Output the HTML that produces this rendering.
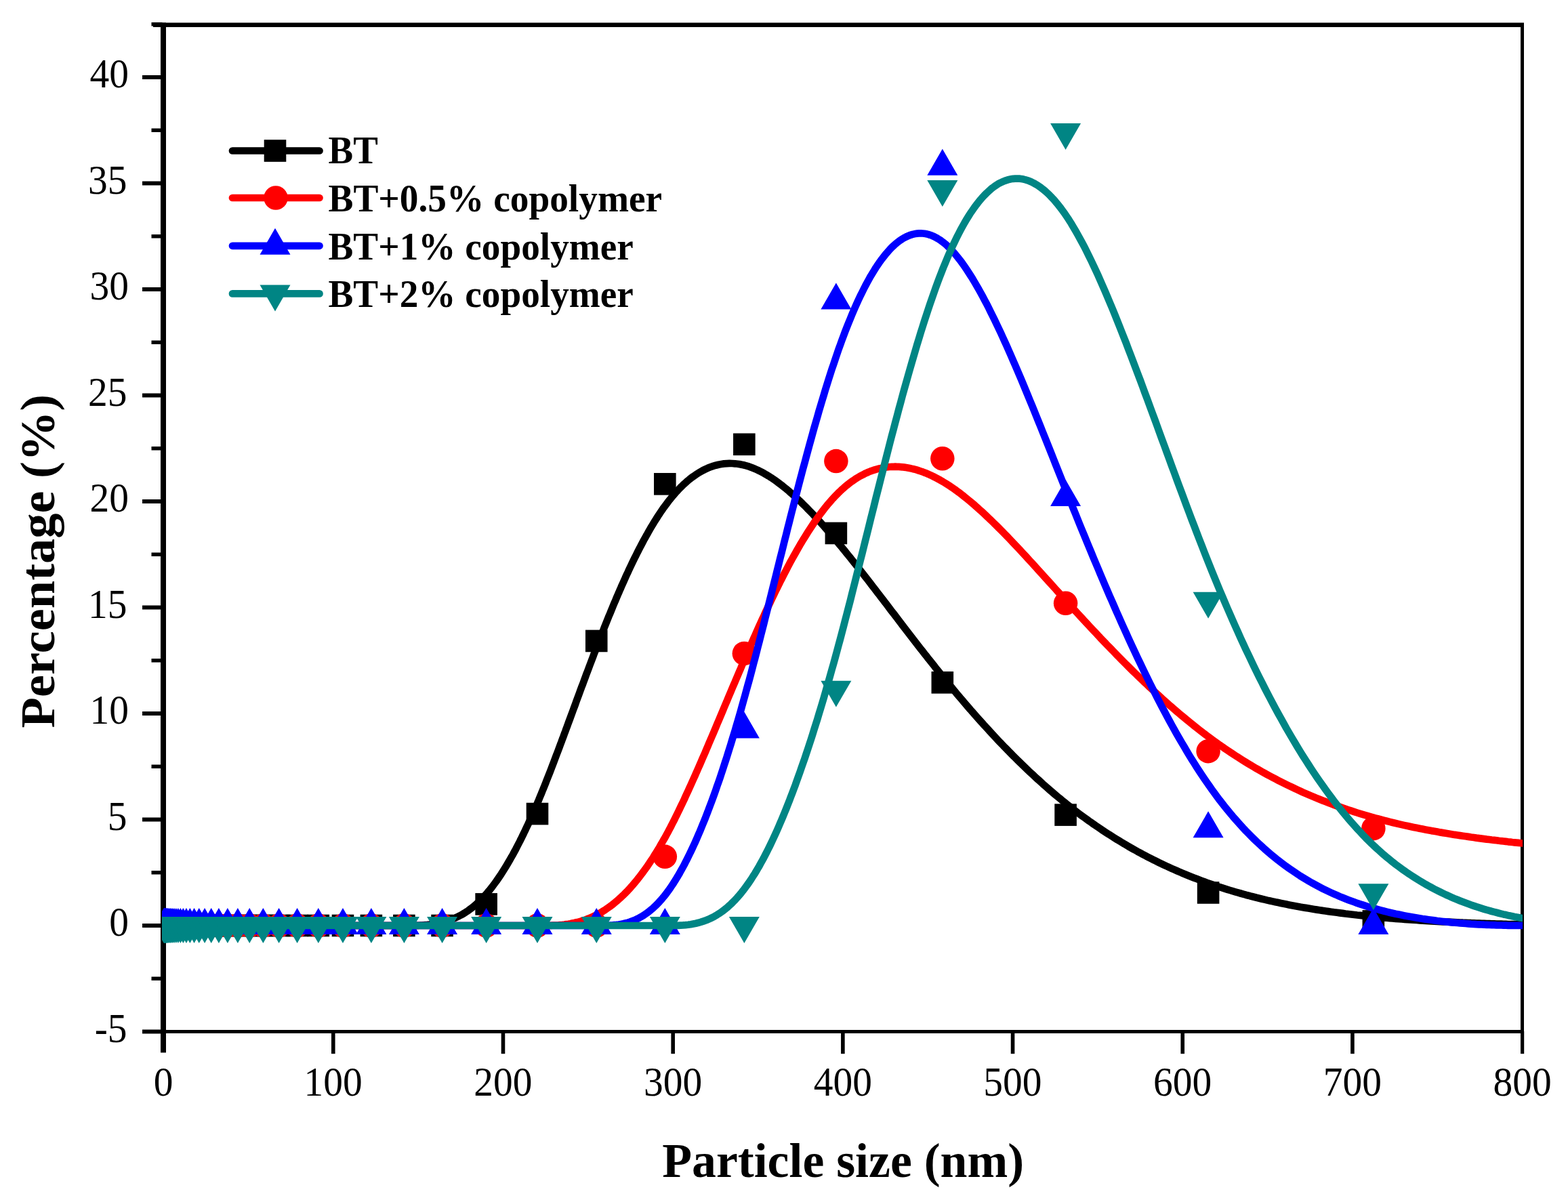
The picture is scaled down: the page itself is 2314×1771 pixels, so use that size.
<!DOCTYPE html>
<html><head><meta charset="utf-8"><title>Particle size distribution</title>
<style>
html,body{margin:0;padding:0;background:#fff;overflow:hidden;}
svg{display:block;}
text{font-family:"Liberation Serif","Times New Roman",serif;fill:#000;}
.tl{font-size:57.5px;}
.ti{font-size:72px;font-weight:bold;}
.lg{font-size:56px;font-weight:bold;}
</style></head><body>
<svg width="2314" height="1771" viewBox="0 0 2314 1771">
<rect width="2314" height="1771" fill="#fff"/>
<defs><clipPath id="pa"><rect x="239" y="36" width="2008" height="1487"/></clipPath></defs>

<g fill="#000">
<rect x="237" y="33.5" width="8" height="1491.5"/>
<rect x="2244" y="35" width="5" height="1490"/>
<rect x="226" y="33.5" width="2023" height="6.5"/>
<rect x="210" y="1520" width="2039" height="5"/>
<rect x="237" y="1522" width="8" height="31.5"/>
<rect x="488.99" y="1522" width="5.6" height="33.2"/>
<rect x="739.68" y="1522" width="5.6" height="33.2"/>
<rect x="990.37" y="1522" width="5.6" height="33.2"/>
<rect x="1241.06" y="1522" width="5.6" height="33.2"/>
<rect x="1491.75" y="1522" width="5.6" height="33.2"/>
<rect x="1742.44" y="1522" width="5.6" height="33.2"/>
<rect x="1993.13" y="1522" width="5.6" height="33.2"/>
<rect x="2244" y="1522" width="5.2" height="33.2"/>
<rect x="210" y="1519.50" width="30" height="6"/>
<rect x="210" y="1363.00" width="30" height="6"/>
<rect x="210" y="1206.50" width="30" height="6"/>
<rect x="210" y="1050.00" width="30" height="6"/>
<rect x="210" y="893.50" width="30" height="6"/>
<rect x="210" y="737.00" width="30" height="6"/>
<rect x="210" y="580.50" width="30" height="6"/>
<rect x="210" y="424.00" width="30" height="6"/>
<rect x="210" y="267.50" width="30" height="6"/>
<rect x="210" y="111.00" width="30" height="6"/>
<rect x="223.5" y="1441.50" width="16" height="5.5"/>
<rect x="223.5" y="1285.00" width="16" height="5.5"/>
<rect x="223.5" y="1128.50" width="16" height="5.5"/>
<rect x="223.5" y="972.00" width="16" height="5.5"/>
<rect x="223.5" y="815.50" width="16" height="5.5"/>
<rect x="223.5" y="659.00" width="16" height="5.5"/>
<rect x="223.5" y="502.50" width="16" height="5.5"/>
<rect x="223.5" y="346.00" width="16" height="5.5"/>
<rect x="223.5" y="189.50" width="16" height="5.5"/>
<rect x="223.5" y="33.00" width="16" height="5.5"/>
</g>
<g clip-path="url(#pa)">
<path d="M242.0,1366.0 L244.5,1366.0 L247.0,1366.0 L249.5,1366.0 L252.1,1366.0 L254.6,1366.0 L257.1,1366.0 L259.6,1366.0 L262.2,1366.0 L264.7,1366.0 L267.2,1366.0 L269.8,1366.0 L272.4,1366.0 L274.9,1366.0 L277.5,1366.0 L280.1,1366.0 L282.6,1366.0 L285.2,1366.0 L287.7,1366.0 L290.3,1366.0 L292.9,1366.0 L295.5,1366.0 L298.1,1366.0 L300.7,1366.0 L303.2,1366.0 L305.8,1366.0 L308.4,1366.0 L311.0,1366.0 L313.6,1366.0 L316.1,1366.0 L318.7,1366.0 L321.2,1366.0 L323.8,1366.0 L326.5,1366.0 L329.0,1366.0 L331.7,1366.0 L334.4,1366.0 L336.9,1366.0 L339.5,1366.0 L342.2,1366.0 L344.7,1366.0 L347.3,1366.0 L349.9,1366.0 L352.6,1366.0 L355.4,1366.0 L357.9,1366.0 L360.5,1366.0 L363.2,1366.0 L365.9,1366.0 L368.7,1366.0 L371.2,1366.0 L373.8,1366.0 L376.4,1366.0 L379.1,1366.0 L381.8,1366.0 L384.6,1366.0 L387.4,1366.0 L390.0,1366.0 L392.5,1366.0 L395.1,1366.0 L397.8,1366.0 L400.5,1366.0 L403.3,1366.0 L406.1,1366.0 L408.9,1366.0 L411.8,1366.0 L414.3,1366.0 L416.9,1366.0 L419.5,1366.0 L422.1,1366.0 L424.8,1366.0 L427.5,1366.0 L430.3,1366.0 L433.1,1366.0 L435.9,1366.0 L438.8,1366.0 L441.7,1366.0 L444.7,1366.0 L447.2,1366.0 L449.8,1366.0 L452.3,1366.0 L454.9,1366.0 L457.6,1366.0 L460.2,1366.0 L462.9,1366.0 L465.7,1366.0 L468.4,1366.0 L471.2,1366.0 L474.0,1366.0 L476.9,1366.0 L479.8,1366.0 L482.8,1366.0 L485.7,1366.0 L488.7,1366.0 L491.8,1366.0 L494.9,1366.0 L498.0,1366.0 L500.5,1366.0 L503.1,1366.0 L505.7,1366.0 L508.3,1366.0 L510.9,1366.0 L513.5,1366.0 L516.2,1366.0 L518.9,1366.0 L521.7,1366.0 L524.4,1366.0 L527.2,1366.0 L530.0,1366.0 L532.9,1366.0 L535.7,1366.0 L538.6,1366.0 L541.6,1366.0 L544.5,1366.0 L547.5,1366.0 L550.5,1366.0 L553.6,1366.0 L556.6,1366.0 L559.7,1366.0 L562.9,1366.0 L566.0,1366.0 L569.2,1366.0 L572.4,1366.0 L575.7,1366.0 L579.0,1366.0 L582.3,1366.0 L584.8,1366.0 L587.4,1366.0 L589.9,1366.0 L592.5,1366.0 L595.1,1366.0 L597.7,1366.0 L600.3,1366.0 L603.0,1366.0 L605.6,1366.0 L608.3,1366.0 L611.0,1365.9 L613.7,1365.9 L616.5,1365.8 L619.3,1365.7 L622.0,1365.5 L624.8,1365.3 L627.7,1365.1 L630.5,1364.9 L633.4,1364.6 L636.3,1364.2 L639.2,1363.8 L642.1,1363.3 L645.1,1362.8 L648.1,1362.2 L651.1,1361.5 L654.1,1360.7 L657.1,1359.9 L660.2,1359.0 L663.3,1358.0 L666.4,1356.8 L669.5,1355.6 L672.7,1354.3 L675.8,1352.8 L679.0,1351.1 L682.3,1349.4 L684.4,1348.1 L686.6,1346.7 L688.8,1345.3 L691.0,1343.8 L693.2,1342.2 L695.4,1340.6 L697.6,1338.8 L699.9,1337.0 L702.1,1335.1 L704.4,1333.0 L706.7,1330.9 L709.0,1328.7 L711.2,1326.4 L713.6,1324.0 L715.9,1321.4 L718.2,1318.8 L720.5,1316.0 L722.9,1313.2 L725.3,1310.2 L727.6,1307.1 L730.0,1303.9 L732.4,1300.6 L734.8,1297.1 L737.2,1293.6 L739.7,1289.9 L742.1,1286.1 L744.6,1282.2 L747.1,1278.2 L749.5,1274.0 L752.0,1269.7 L753.3,1267.5 L754.5,1265.3 L755.8,1263.1 L757.1,1260.8 L758.3,1258.5 L759.6,1256.1 L760.9,1253.8 L762.1,1251.4 L763.4,1248.9 L764.7,1246.4 L766.0,1243.9 L767.3,1241.4 L768.5,1238.9 L769.8,1236.3 L771.1,1233.6 L772.4,1231.0 L773.7,1228.3 L775.0,1225.6 L776.3,1222.8 L777.6,1220.0 L779.0,1217.2 L780.3,1214.3 L781.6,1211.4 L782.9,1208.5 L784.3,1205.6 L785.6,1202.6 L786.9,1199.6 L788.3,1196.5 L789.6,1193.4 L790.9,1190.3 L792.3,1187.2 L793.6,1184.0 L795.0,1180.8 L796.3,1177.5 L797.7,1174.2 L799.1,1170.9 L800.4,1167.5 L801.8,1164.2 L803.2,1160.7 L804.6,1157.3 L805.9,1153.8 L807.3,1150.3 L808.7,1146.8 L810.1,1143.3 L811.5,1139.7 L812.9,1136.1 L814.3,1132.4 L815.7,1128.8 L817.1,1125.1 L818.5,1121.4 L819.9,1117.7 L821.3,1113.9 L822.8,1110.1 L824.2,1106.4 L825.6,1102.6 L827.0,1098.7 L828.5,1094.9 L829.9,1091.0 L831.4,1087.1 L832.8,1083.2 L834.3,1079.3 L835.7,1075.4 L837.2,1071.5 L838.6,1067.5 L840.1,1063.5 L841.6,1059.5 L843.0,1055.6 L844.5,1051.6 L846.0,1047.5 L847.5,1043.5 L849.0,1039.5 L850.4,1035.4 L851.9,1031.4 L853.4,1027.3 L854.9,1023.3 L856.4,1019.2 L857.9,1015.1 L859.5,1011.1 L861.0,1007.0 L862.5,1002.9 L864.0,998.8 L865.5,994.7 L867.1,990.6 L868.6,986.6 L870.1,982.5 L871.7,978.4 L873.2,974.3 L874.8,970.2 L876.3,966.1 L877.9,962.1 L879.4,958.0 L881.0,953.9 L882.6,949.9 L884.1,945.8 L885.7,941.8 L887.3,937.7 L888.9,933.7 L890.5,929.7 L892.0,925.7 L893.6,921.7 L895.2,917.7 L896.8,913.7 L898.4,909.7 L900.1,905.8 L901.7,901.9 L903.3,897.9 L904.9,894.0 L906.5,890.2 L908.2,886.3 L909.8,882.4 L911.4,878.6 L913.1,874.8 L914.7,871.0 L916.4,867.2 L918.0,863.4 L919.7,859.7 L921.4,856.0 L923.0,852.3 L924.7,848.6 L926.4,845.0 L928.0,841.4 L929.7,837.8 L931.4,834.2 L933.1,830.7 L934.8,827.2 L936.5,823.7 L938.2,820.3 L939.9,816.9 L941.6,813.5 L943.3,810.1 L945.1,806.8 L946.8,803.5 L948.5,800.2 L950.2,797.0 L952.0,793.8 L953.7,790.7 L955.5,787.6 L957.2,784.5 L959.0,781.4 L960.7,778.4 L962.5,775.5 L964.3,772.5 L966.0,769.6 L967.8,766.8 L969.6,764.0 L971.4,761.2 L973.2,758.5 L974.9,755.9 L976.7,753.2 L978.5,750.6 L980.4,748.1 L982.2,745.6 L984.0,743.2 L985.8,740.8 L987.6,738.4 L989.5,736.1 L991.3,733.9 L993.1,731.7 L995.0,729.5 L996.8,727.4 L998.7,725.4 L1000.5,723.4 L1002.4,721.4 L1004.2,719.5 L1006.1,717.7 L1008.0,715.8 L1009.9,714.1 L1011.7,712.4 L1013.6,710.7 L1017.4,707.5 L1021.2,704.5 L1025.1,701.8 L1028.9,699.2 L1032.8,696.8 L1036.6,694.6 L1040.6,692.6 L1044.5,690.8 L1048.4,689.3 L1052.4,687.9 L1056.4,686.7 L1060.4,685.7 L1064.4,685.0 L1068.4,684.4 L1072.5,684.1 L1076.5,683.9 L1080.6,684.0 L1084.8,684.3 L1088.9,684.7 L1093.1,685.4 L1097.2,686.3 L1101.4,687.4 L1105.7,688.7 L1109.9,690.3 L1114.2,692.0 L1118.4,693.9 L1122.7,696.0 L1127.1,698.3 L1131.4,700.8 L1133.6,702.2 L1135.8,703.5 L1138.0,704.9 L1140.2,706.4 L1142.4,707.9 L1144.6,709.4 L1146.8,711.0 L1149.0,712.7 L1151.2,714.3 L1153.5,716.0 L1155.7,717.8 L1157.9,719.6 L1160.2,721.4 L1162.4,723.3 L1164.7,725.2 L1166.9,727.2 L1169.2,729.2 L1171.5,731.2 L1173.8,733.3 L1176.0,735.4 L1178.3,737.5 L1180.6,739.7 L1182.9,741.9 L1185.2,744.2 L1187.6,746.5 L1189.9,748.8 L1192.2,751.2 L1194.5,753.6 L1196.9,756.0 L1199.2,758.4 L1201.5,760.9 L1203.9,763.5 L1206.3,766.0 L1208.6,768.6 L1211.0,771.2 L1213.4,773.8 L1215.8,776.5 L1218.1,779.2 L1220.5,781.9 L1222.9,784.7 L1225.3,787.5 L1227.7,790.3 L1230.2,793.1 L1232.6,796.0 L1235.0,798.9 L1237.4,801.8 L1239.9,804.8 L1242.3,807.7 L1244.8,810.7 L1247.2,813.7 L1249.7,816.8 L1252.2,819.8 L1254.7,822.9 L1257.1,826.0 L1259.6,829.1 L1262.1,832.3 L1264.6,835.4 L1267.1,838.6 L1269.6,841.8 L1272.2,845.0 L1274.7,848.2 L1277.2,851.5 L1279.8,854.8 L1282.3,858.0 L1284.8,861.3 L1287.4,864.7 L1290.0,868.0 L1292.5,871.3 L1295.1,874.7 L1297.7,878.0 L1300.3,881.4 L1302.9,884.8 L1305.5,888.2 L1308.1,891.6 L1310.7,895.0 L1313.3,898.5 L1315.9,901.9 L1318.6,905.3 L1321.2,908.8 L1323.9,912.3 L1326.5,915.7 L1329.2,919.2 L1331.8,922.7 L1334.5,926.2 L1337.2,929.7 L1339.9,933.2 L1342.6,936.7 L1345.3,940.2 L1348.0,943.7 L1350.7,947.2 L1353.4,950.7 L1356.1,954.2 L1358.8,957.7 L1361.6,961.2 L1364.3,964.7 L1367.1,968.2 L1369.8,971.7 L1372.6,975.2 L1375.4,978.7 L1378.2,982.2 L1380.9,985.7 L1383.7,989.2 L1386.5,992.7 L1389.3,996.2 L1392.1,999.7 L1395.0,1003.1 L1397.8,1006.6 L1400.6,1010.0 L1403.5,1013.5 L1406.3,1016.9 L1409.2,1020.4 L1412.0,1023.8 L1414.9,1027.2 L1417.8,1030.6 L1420.7,1034.0 L1423.5,1037.4 L1426.4,1040.8 L1429.3,1044.1 L1432.2,1047.5 L1435.2,1050.8 L1438.1,1054.2 L1441.0,1057.5 L1444.0,1060.8 L1446.9,1064.1 L1449.9,1067.4 L1452.8,1070.7 L1455.8,1073.9 L1458.8,1077.2 L1461.7,1080.4 L1464.7,1083.7 L1467.7,1086.9 L1470.7,1090.1 L1473.7,1093.3 L1476.8,1096.5 L1479.8,1099.6 L1482.8,1102.8 L1485.9,1105.9 L1488.9,1109.0 L1492.0,1112.1 L1495.0,1115.2 L1498.1,1118.3 L1501.2,1121.3 L1504.3,1124.4 L1507.4,1127.4 L1510.5,1130.4 L1513.6,1133.4 L1516.7,1136.4 L1519.8,1139.3 L1523.0,1142.2 L1526.1,1145.2 L1529.2,1148.1 L1532.4,1150.9 L1535.6,1153.8 L1538.7,1156.7 L1541.9,1159.5 L1545.1,1162.3 L1548.3,1165.1 L1551.5,1167.8 L1554.7,1170.6 L1557.9,1173.3 L1561.1,1176.0 L1564.4,1178.7 L1567.6,1181.4 L1570.9,1184.0 L1574.1,1186.6 L1577.4,1189.2 L1580.7,1191.8 L1583.9,1194.3 L1587.2,1196.9 L1590.5,1199.4 L1593.8,1201.9 L1597.1,1204.3 L1600.5,1206.8 L1603.8,1209.2 L1607.1,1211.6 L1610.5,1213.9 L1613.8,1216.3 L1617.2,1218.6 L1620.6,1220.9 L1623.9,1223.2 L1627.3,1225.5 L1630.7,1227.7 L1634.1,1229.9 L1637.5,1232.1 L1641.0,1234.3 L1644.4,1236.5 L1647.8,1238.6 L1651.3,1240.7 L1654.7,1242.8 L1658.2,1244.9 L1661.7,1246.9 L1665.1,1249.0 L1668.6,1251.0 L1672.1,1253.0 L1675.6,1254.9 L1679.1,1256.9 L1682.7,1258.8 L1686.2,1260.7 L1689.7,1262.5 L1693.3,1264.4 L1696.8,1266.2 L1700.4,1268.1 L1704.0,1269.8 L1707.6,1271.6 L1711.1,1273.4 L1714.7,1275.1 L1718.4,1276.8 L1722.0,1278.5 L1725.6,1280.2 L1729.2,1281.8 L1732.9,1283.4 L1736.5,1285.0 L1740.2,1286.6 L1743.9,1288.2 L1747.6,1289.7 L1751.2,1291.2 L1754.9,1292.7 L1758.6,1294.2 L1762.4,1295.7 L1766.1,1297.1 L1769.8,1298.5 L1773.6,1299.9 L1777.3,1301.3 L1781.1,1302.7 L1784.9,1304.0 L1788.6,1305.3 L1792.4,1306.6 L1796.2,1307.9 L1800.0,1309.2 L1803.9,1310.4 L1807.7,1311.6 L1811.5,1312.8 L1815.4,1314.0 L1819.2,1315.2 L1823.1,1316.3 L1827.0,1317.4 L1830.8,1318.5 L1834.7,1319.6 L1838.6,1320.7 L1842.6,1321.7 L1846.5,1322.8 L1850.4,1323.8 L1854.3,1324.8 L1858.3,1325.7 L1862.3,1326.7 L1866.2,1327.6 L1870.2,1328.6 L1874.2,1329.5 L1878.2,1330.4 L1882.2,1331.3 L1886.2,1332.1 L1890.3,1333.0 L1894.3,1333.8 L1898.3,1334.6 L1902.4,1335.4 L1906.5,1336.2 L1910.6,1337.0 L1914.6,1337.7 L1918.7,1338.5 L1922.8,1339.2 L1927.0,1339.9 L1931.1,1340.6 L1935.2,1341.3 L1939.4,1342.0 L1943.5,1342.6 L1947.7,1343.2 L1951.9,1343.9 L1956.1,1344.5 L1960.3,1345.1 L1964.5,1345.7 L1968.7,1346.3 L1972.9,1346.8 L1977.2,1347.4 L1981.4,1347.9 L1985.7,1348.5 L1990.0,1349.0 L1994.3,1349.5 L1998.6,1350.0 L2002.9,1350.5 L2007.2,1350.9 L2011.5,1351.4 L2015.8,1351.8 L2020.2,1352.3 L2024.5,1352.7 L2028.9,1353.1 L2033.3,1353.5 L2037.7,1353.9 L2042.1,1354.3 L2046.5,1354.7 L2050.9,1355.1 L2055.3,1355.4 L2059.7,1355.8 L2064.2,1356.1 L2068.6,1356.5 L2073.0,1356.8 L2077.4,1357.1 L2081.8,1357.4 L2086.2,1357.7 L2090.6,1358.0 L2095.0,1358.3 L2099.4,1358.6 L2103.8,1358.8 L2108.1,1359.1 L2112.5,1359.3 L2116.8,1359.6 L2121.1,1359.8 L2125.4,1360.1 L2129.7,1360.3 L2133.9,1360.5 L2138.2,1360.7 L2142.4,1360.9 L2146.5,1361.1 L2150.7,1361.3 L2154.8,1361.5 L2158.9,1361.7 L2162.9,1361.8 L2167.0,1362.0 L2170.9,1362.2 L2174.9,1362.3 L2178.8,1362.5 L2182.7,1362.6 L2186.5,1362.8 L2190.3,1362.9 L2194.0,1363.0 L2197.7,1363.1 L2201.4,1363.3 L2205.0,1363.4 L2208.5,1363.5 L2212.0,1363.6 L2215.5,1363.7 L2218.8,1363.8 L2222.2,1363.9 L2225.5,1364.0 L2228.7,1364.1 L2231.8,1364.2 L2234.9,1364.2 L2238.0,1364.3 L2240.9,1364.4 L2243.8,1364.5 L2246.6,1364.5 L2249.4,1364.6 L2252.1,1364.7 L2254.7,1364.7 L2257.3,1364.8 L2262.1,1364.9 L2266.7,1365.0 L2270.9,1365.1 L2274.9,1365.2 L2278.5,1365.3 L2281.9,1365.4 L2285.1,1365.4 L2288.0,1365.5 L2290.6,1365.6 L2294.2,1365.7 L2297.2,1365.7 L2299.8,1365.8 L2299.8,1365.8" fill="none" stroke="#000000" stroke-width="10.7" stroke-linejoin="round"/>
<g fill="#000000">
<rect x="225.70" y="1349.70" width="32.6" height="32.6"/>
<rect x="225.86" y="1349.70" width="32.6" height="32.6"/>
<rect x="226.04" y="1349.70" width="32.6" height="32.6"/>
<rect x="226.26" y="1349.70" width="32.6" height="32.6"/>
<rect x="226.50" y="1349.70" width="32.6" height="32.6"/>
<rect x="226.79" y="1349.70" width="32.6" height="32.6"/>
<rect x="227.12" y="1349.70" width="32.6" height="32.6"/>
<rect x="227.50" y="1349.70" width="32.6" height="32.6"/>
<rect x="227.94" y="1349.70" width="32.6" height="32.6"/>
<rect x="228.46" y="1349.70" width="32.6" height="32.6"/>
<rect x="229.05" y="1349.70" width="32.6" height="32.6"/>
<rect x="229.74" y="1349.70" width="32.6" height="32.6"/>
<rect x="230.54" y="1349.70" width="32.6" height="32.6"/>
<rect x="231.46" y="1349.70" width="32.6" height="32.6"/>
<rect x="232.53" y="1349.70" width="32.6" height="32.6"/>
<rect x="233.76" y="1349.70" width="32.6" height="32.6"/>
<rect x="235.20" y="1349.70" width="32.6" height="32.6"/>
<rect x="236.85" y="1349.70" width="32.6" height="32.6"/>
<rect x="238.78" y="1349.70" width="32.6" height="32.6"/>
<rect x="241.00" y="1349.70" width="32.6" height="32.6"/>
<rect x="243.58" y="1349.70" width="32.6" height="32.6"/>
<rect x="246.56" y="1349.70" width="32.6" height="32.6"/>
<rect x="250.02" y="1349.70" width="32.6" height="32.6"/>
<rect x="254.02" y="1349.70" width="32.6" height="32.6"/>
<rect x="258.66" y="1349.70" width="32.6" height="32.6"/>
<rect x="264.02" y="1349.70" width="32.6" height="32.6"/>
<rect x="270.24" y="1349.70" width="32.6" height="32.6"/>
<rect x="277.44" y="1349.70" width="32.6" height="32.6"/>
<rect x="285.78" y="1349.70" width="32.6" height="32.6"/>
<rect x="295.43" y="1349.70" width="32.6" height="32.6"/>
<rect x="306.61" y="1349.70" width="32.6" height="32.6"/>
<rect x="319.56" y="1349.70" width="32.6" height="32.6"/>
<rect x="334.56" y="1349.70" width="32.6" height="32.6"/>
<rect x="351.92" y="1349.70" width="32.6" height="32.6"/>
<rect x="372.03" y="1349.70" width="32.6" height="32.6"/>
<rect x="395.32" y="1349.70" width="32.6" height="32.6"/>
<rect x="422.29" y="1349.70" width="32.6" height="32.6"/>
<rect x="453.53" y="1349.70" width="32.6" height="32.6"/>
<rect x="489.70" y="1349.70" width="32.6" height="32.6"/>
<rect x="531.59" y="1349.70" width="32.6" height="32.6"/>
<rect x="580.11" y="1349.70" width="32.6" height="32.6"/>
<rect x="636.29" y="1349.70" width="32.6" height="32.6"/>
<rect x="701.35" y="1318.09" width="32.6" height="32.6"/>
<rect x="776.70" y="1184.75" width="32.6" height="32.6"/>
<rect x="863.96" y="929.65" width="32.6" height="32.6"/>
<rect x="965.02" y="698.03" width="32.6" height="32.6"/>
<rect x="1082.05" y="639.50" width="32.6" height="32.6"/>
<rect x="1217.58" y="770.65" width="32.6" height="32.6"/>
<rect x="1374.53" y="991.00" width="32.6" height="32.6"/>
<rect x="1556.29" y="1186.31" width="32.6" height="32.6"/>
<rect x="1766.79" y="1301.18" width="32.6" height="32.6"/>
<rect x="2010.56" y="1343.13" width="32.6" height="32.6"/>
</g>
<path d="M242.0,1366.0 L244.5,1366.0 L247.0,1366.0 L249.5,1366.0 L252.1,1366.0 L254.6,1366.0 L257.1,1366.0 L259.6,1366.0 L262.2,1366.0 L264.7,1366.0 L267.2,1366.0 L269.8,1366.0 L272.4,1366.0 L274.9,1366.0 L277.5,1366.0 L280.1,1366.0 L282.6,1366.0 L285.2,1366.0 L287.7,1366.0 L290.3,1366.0 L292.9,1366.0 L295.5,1366.0 L298.1,1366.0 L300.7,1366.0 L303.2,1366.0 L305.8,1366.0 L308.4,1366.0 L311.0,1366.0 L313.6,1366.0 L316.1,1366.0 L318.7,1366.0 L321.2,1366.0 L323.8,1366.0 L326.5,1366.0 L329.0,1366.0 L331.7,1366.0 L334.4,1366.0 L336.9,1366.0 L339.5,1366.0 L342.2,1366.0 L344.7,1366.0 L347.3,1366.0 L349.9,1366.0 L352.6,1366.0 L355.4,1366.0 L357.9,1366.0 L360.5,1366.0 L363.2,1366.0 L365.9,1366.0 L368.7,1366.0 L371.2,1366.0 L373.8,1366.0 L376.4,1366.0 L379.1,1366.0 L381.8,1366.0 L384.6,1366.0 L387.4,1366.0 L390.0,1366.0 L392.5,1366.0 L395.1,1366.0 L397.8,1366.0 L400.5,1366.0 L403.3,1366.0 L406.1,1366.0 L408.9,1366.0 L411.8,1366.0 L414.3,1366.0 L416.9,1366.0 L419.5,1366.0 L422.1,1366.0 L424.8,1366.0 L427.5,1366.0 L430.3,1366.0 L433.1,1366.0 L435.9,1366.0 L438.8,1366.0 L441.7,1366.0 L444.7,1366.0 L447.2,1366.0 L449.8,1366.0 L452.3,1366.0 L454.9,1366.0 L457.6,1366.0 L460.2,1366.0 L462.9,1366.0 L465.7,1366.0 L468.4,1366.0 L471.2,1366.0 L474.0,1366.0 L476.9,1366.0 L479.8,1366.0 L482.8,1366.0 L485.7,1366.0 L488.7,1366.0 L491.8,1366.0 L494.9,1366.0 L498.0,1366.0 L500.5,1366.0 L503.1,1366.0 L505.7,1366.0 L508.3,1366.0 L510.9,1366.0 L513.5,1366.0 L516.2,1366.0 L518.9,1366.0 L521.7,1366.0 L524.4,1366.0 L527.2,1366.0 L530.0,1366.0 L532.9,1366.0 L535.7,1366.0 L538.6,1366.0 L541.6,1366.0 L544.5,1366.0 L547.5,1366.0 L550.5,1366.0 L553.6,1366.0 L556.6,1366.0 L559.7,1366.0 L562.9,1366.0 L566.0,1366.0 L569.2,1366.0 L572.4,1366.0 L575.7,1366.0 L579.0,1366.0 L582.3,1366.0 L584.8,1366.0 L587.4,1366.0 L589.9,1366.0 L592.5,1366.0 L595.1,1366.0 L597.7,1366.0 L600.3,1366.0 L603.0,1366.0 L605.6,1366.0 L608.3,1366.0 L611.0,1366.0 L613.7,1366.0 L616.5,1366.0 L619.3,1366.0 L622.0,1366.0 L624.8,1366.0 L627.7,1366.0 L630.5,1366.0 L633.4,1366.0 L636.3,1366.0 L639.2,1366.0 L642.1,1366.0 L645.1,1366.0 L648.1,1366.0 L651.1,1366.0 L654.1,1366.0 L657.1,1366.0 L660.2,1366.0 L663.3,1366.0 L666.4,1366.0 L669.5,1366.0 L672.7,1366.0 L675.8,1366.0 L679.0,1366.0 L682.3,1366.0 L685.5,1366.0 L688.8,1366.0 L692.1,1366.0 L695.4,1366.0 L698.8,1366.0 L702.1,1366.0 L705.5,1366.0 L709.0,1366.0 L712.4,1366.0 L715.9,1366.0 L719.4,1366.0 L722.9,1366.0 L726.4,1366.0 L730.0,1366.0 L733.6,1366.0 L737.2,1366.0 L740.9,1366.0 L744.6,1366.0 L748.3,1366.0 L752.0,1366.0 L754.5,1366.0 L757.1,1366.0 L759.6,1366.0 L762.1,1366.0 L764.7,1366.0 L767.3,1366.0 L769.8,1366.0 L772.4,1366.0 L775.0,1366.0 L777.6,1366.0 L780.3,1366.0 L782.9,1366.0 L785.6,1366.0 L788.3,1366.0 L790.9,1366.0 L793.6,1366.0 L796.3,1366.0 L799.1,1366.0 L801.8,1366.0 L804.6,1366.0 L807.3,1365.9 L810.1,1365.9 L812.9,1365.8 L815.7,1365.7 L818.5,1365.6 L821.3,1365.5 L824.2,1365.3 L827.0,1365.0 L829.9,1364.8 L832.8,1364.5 L835.7,1364.1 L838.6,1363.7 L841.6,1363.2 L844.5,1362.6 L847.5,1362.0 L850.4,1361.3 L853.4,1360.6 L856.4,1359.8 L859.5,1358.8 L862.5,1357.9 L865.5,1356.8 L868.6,1355.6 L871.7,1354.3 L874.8,1352.9 L877.9,1351.5 L881.0,1349.9 L884.1,1348.2 L887.3,1346.4 L890.5,1344.4 L893.6,1342.4 L896.8,1340.2 L900.1,1337.9 L903.3,1335.5 L906.5,1332.9 L909.8,1330.2 L913.1,1327.3 L916.4,1324.3 L919.7,1321.2 L923.0,1317.9 L926.4,1314.4 L929.7,1310.8 L931.4,1308.9 L933.1,1307.0 L934.8,1305.0 L936.5,1303.0 L938.2,1301.0 L939.9,1298.9 L941.6,1296.7 L943.3,1294.6 L945.1,1292.3 L946.8,1290.1 L948.5,1287.8 L950.2,1285.4 L952.0,1283.0 L953.7,1280.6 L955.5,1278.1 L957.2,1275.5 L959.0,1272.9 L960.7,1270.3 L962.5,1267.6 L964.3,1264.8 L966.0,1262.0 L967.8,1259.2 L969.6,1256.3 L971.4,1253.4 L973.2,1250.4 L974.9,1247.3 L976.7,1244.2 L978.5,1241.0 L980.4,1237.8 L982.2,1234.6 L984.0,1231.3 L985.8,1227.9 L987.6,1224.5 L989.5,1221.0 L991.3,1217.4 L993.1,1213.9 L995.0,1210.2 L996.8,1206.5 L998.7,1202.8 L1000.5,1199.0 L1002.4,1195.2 L1004.2,1191.3 L1006.1,1187.4 L1008.0,1183.5 L1009.9,1179.5 L1011.7,1175.4 L1013.6,1171.3 L1015.5,1167.2 L1017.4,1163.1 L1019.3,1158.9 L1021.2,1154.6 L1023.1,1150.4 L1025.1,1146.1 L1027.0,1141.7 L1028.9,1137.4 L1030.8,1133.0 L1032.8,1128.5 L1034.7,1124.1 L1036.6,1119.6 L1038.6,1115.1 L1040.6,1110.6 L1042.5,1106.0 L1044.5,1101.4 L1046.4,1096.8 L1048.4,1092.2 L1050.4,1087.5 L1052.4,1082.8 L1054.4,1078.1 L1056.4,1073.4 L1058.3,1068.7 L1060.4,1063.9 L1062.4,1059.2 L1064.4,1054.4 L1066.4,1049.6 L1068.4,1044.8 L1070.4,1040.0 L1072.5,1035.2 L1074.5,1030.3 L1076.5,1025.5 L1078.6,1020.6 L1080.6,1015.8 L1082.7,1010.9 L1084.8,1006.1 L1086.8,1001.2 L1088.9,996.3 L1091.0,991.4 L1093.1,986.6 L1095.1,981.7 L1097.2,976.8 L1099.3,971.9 L1101.4,967.1 L1103.5,962.2 L1105.7,957.4 L1107.8,952.5 L1109.9,947.7 L1112.0,942.8 L1114.2,938.0 L1116.3,933.2 L1118.4,928.4 L1120.6,923.6 L1122.7,918.9 L1124.9,914.1 L1127.1,909.4 L1129.2,904.7 L1131.4,900.0 L1133.6,895.3 L1135.8,890.7 L1138.0,886.0 L1140.2,881.4 L1142.4,876.9 L1144.6,872.3 L1146.8,867.8 L1149.0,863.3 L1151.2,858.8 L1153.5,854.4 L1155.7,850.0 L1157.9,845.7 L1160.2,841.4 L1162.4,837.1 L1164.7,832.8 L1166.9,828.6 L1169.2,824.5 L1171.5,820.4 L1173.8,816.3 L1176.0,812.3 L1178.3,808.3 L1180.6,804.3 L1182.9,800.5 L1185.2,796.6 L1187.6,792.8 L1189.9,789.1 L1192.2,785.4 L1194.5,781.8 L1196.9,778.2 L1199.2,774.7 L1201.5,771.2 L1203.9,767.8 L1206.3,764.5 L1208.6,761.2 L1211.0,758.0 L1213.4,754.9 L1215.8,751.8 L1218.1,748.8 L1220.5,745.8 L1222.9,743.0 L1225.3,740.2 L1227.7,737.4 L1230.2,734.8 L1232.6,732.2 L1235.0,729.7 L1237.4,727.2 L1239.9,724.9 L1242.3,722.6 L1244.8,720.4 L1247.2,718.3 L1249.7,716.2 L1252.2,714.2 L1254.7,712.3 L1257.1,710.5 L1259.6,708.8 L1262.1,707.1 L1264.6,705.5 L1267.1,704.0 L1269.6,702.5 L1272.2,701.2 L1274.7,699.9 L1277.2,698.6 L1279.8,697.5 L1282.3,696.4 L1284.8,695.4 L1287.4,694.5 L1290.0,693.6 L1292.5,692.8 L1295.1,692.1 L1297.7,691.4 L1300.3,690.9 L1302.9,690.3 L1305.5,689.9 L1308.1,689.5 L1310.7,689.2 L1313.3,689.0 L1315.9,688.9 L1318.6,688.8 L1321.2,688.7 L1323.9,688.8 L1326.5,688.9 L1329.2,689.1 L1331.8,689.3 L1334.5,689.6 L1337.2,690.0 L1339.9,690.5 L1342.6,691.0 L1345.3,691.6 L1348.0,692.2 L1350.7,692.9 L1353.4,693.7 L1356.1,694.6 L1358.8,695.5 L1361.6,696.4 L1364.3,697.5 L1367.1,698.6 L1369.8,699.7 L1372.6,701.0 L1375.4,702.2 L1378.2,703.6 L1380.9,705.0 L1383.7,706.5 L1386.5,708.0 L1389.3,709.6 L1392.1,711.3 L1395.0,713.0 L1397.8,714.8 L1400.6,716.6 L1403.5,718.5 L1406.3,720.4 L1409.2,722.4 L1412.0,724.5 L1414.9,726.6 L1417.8,728.8 L1420.7,731.0 L1423.5,733.3 L1426.4,735.6 L1429.3,738.0 L1432.2,740.4 L1435.2,742.9 L1438.1,745.4 L1441.0,748.0 L1444.0,750.6 L1446.9,753.3 L1449.9,755.9 L1452.8,758.7 L1455.8,761.5 L1458.8,764.3 L1461.7,767.1 L1464.7,770.0 L1467.7,773.0 L1470.7,775.9 L1473.7,778.9 L1476.8,782.0 L1479.8,785.0 L1482.8,788.1 L1485.9,791.3 L1488.9,794.4 L1492.0,797.6 L1495.0,800.8 L1498.1,804.1 L1501.2,807.4 L1504.3,810.6 L1507.4,814.0 L1510.5,817.3 L1513.6,820.7 L1516.7,824.1 L1519.8,827.5 L1523.0,830.9 L1526.1,834.3 L1529.2,837.8 L1532.4,841.3 L1535.6,844.8 L1538.7,848.3 L1541.9,851.8 L1545.1,855.3 L1548.3,858.9 L1551.5,862.4 L1554.7,866.0 L1557.9,869.5 L1561.1,873.1 L1564.4,876.7 L1567.6,880.3 L1570.9,883.9 L1574.1,887.5 L1577.4,891.1 L1580.7,894.7 L1583.9,898.3 L1587.2,901.9 L1590.5,905.5 L1593.8,909.1 L1597.1,912.7 L1600.5,916.3 L1603.8,919.9 L1607.1,923.5 L1610.5,927.1 L1613.8,930.6 L1617.2,934.2 L1620.6,937.8 L1623.9,941.4 L1627.3,944.9 L1630.7,948.5 L1634.1,952.1 L1637.5,955.6 L1641.0,959.1 L1644.4,962.7 L1647.8,966.2 L1651.3,969.7 L1654.7,973.2 L1658.2,976.7 L1661.7,980.2 L1665.1,983.6 L1668.6,987.1 L1672.1,990.6 L1675.6,994.0 L1679.1,997.4 L1682.7,1000.8 L1686.2,1004.2 L1689.7,1007.6 L1693.3,1010.9 L1696.8,1014.3 L1700.4,1017.6 L1704.0,1020.9 L1707.6,1024.2 L1711.1,1027.5 L1714.7,1030.8 L1718.4,1034.0 L1722.0,1037.2 L1725.6,1040.4 L1729.2,1043.6 L1732.9,1046.8 L1736.5,1049.9 L1740.2,1053.0 L1743.9,1056.1 L1747.6,1059.2 L1751.2,1062.2 L1754.9,1065.2 L1758.6,1068.2 L1762.4,1071.2 L1766.1,1074.2 L1769.8,1077.1 L1773.6,1080.0 L1777.3,1082.9 L1781.1,1085.7 L1784.9,1088.5 L1788.6,1091.3 L1792.4,1094.0 L1796.2,1096.8 L1800.0,1099.5 L1803.9,1102.1 L1807.7,1104.8 L1811.5,1107.4 L1815.4,1110.0 L1819.2,1112.5 L1823.1,1115.1 L1827.0,1117.6 L1830.8,1120.0 L1834.7,1122.5 L1838.6,1124.9 L1842.6,1127.3 L1846.5,1129.6 L1850.4,1132.0 L1854.3,1134.3 L1858.3,1136.5 L1862.3,1138.8 L1866.2,1141.0 L1870.2,1143.2 L1874.2,1145.4 L1878.2,1147.5 L1882.2,1149.6 L1886.2,1151.7 L1890.3,1153.8 L1894.3,1155.8 L1898.3,1157.8 L1902.4,1159.8 L1906.5,1161.7 L1910.6,1163.6 L1914.6,1165.5 L1918.7,1167.4 L1922.8,1169.3 L1927.0,1171.1 L1931.1,1172.9 L1935.2,1174.6 L1939.4,1176.4 L1943.5,1178.1 L1947.7,1179.8 L1951.9,1181.5 L1956.1,1183.1 L1960.3,1184.7 L1964.5,1186.3 L1968.7,1187.9 L1972.9,1189.4 L1977.2,1190.9 L1981.4,1192.4 L1985.7,1193.9 L1990.0,1195.3 L1994.3,1196.7 L1998.6,1198.1 L2002.9,1199.5 L2007.2,1200.8 L2011.5,1202.1 L2015.8,1203.4 L2020.2,1204.7 L2024.5,1205.9 L2028.9,1207.2 L2033.3,1208.3 L2037.7,1209.5 L2042.1,1210.7 L2046.5,1211.8 L2050.9,1212.9 L2055.3,1214.0 L2059.7,1215.0 L2064.2,1216.1 L2068.6,1217.1 L2073.0,1218.1 L2077.4,1219.0 L2081.8,1220.0 L2086.2,1220.9 L2090.6,1221.8 L2095.0,1222.7 L2099.4,1223.6 L2103.8,1224.4 L2108.1,1225.2 L2112.5,1226.1 L2116.8,1226.8 L2121.1,1227.6 L2125.4,1228.4 L2129.7,1229.1 L2133.9,1229.8 L2138.2,1230.5 L2142.4,1231.2 L2146.5,1231.9 L2150.7,1232.5 L2154.8,1233.1 L2158.9,1233.7 L2162.9,1234.3 L2167.0,1234.9 L2170.9,1235.5 L2174.9,1236.0 L2178.8,1236.6 L2182.7,1237.1 L2186.5,1237.6 L2190.3,1238.1 L2194.0,1238.6 L2197.7,1239.0 L2201.4,1239.5 L2205.0,1239.9 L2208.5,1240.3 L2212.0,1240.8 L2215.5,1241.2 L2218.8,1241.5 L2222.2,1241.9 L2225.5,1242.3 L2228.7,1242.6 L2231.8,1243.0 L2234.9,1243.3 L2238.0,1243.6 L2240.9,1243.9 L2243.8,1244.2 L2246.6,1244.5 L2249.4,1244.8 L2252.1,1245.1 L2254.7,1245.4 L2257.3,1245.6 L2262.1,1246.1 L2266.7,1246.5 L2270.9,1247.0 L2274.9,1247.4 L2278.5,1247.7 L2281.9,1248.1 L2285.1,1248.4 L2288.0,1248.7 L2290.6,1248.9 L2294.2,1249.3 L2297.2,1249.6 L2299.8,1249.9 L2299.8,1249.9" fill="none" stroke="#ff0000" stroke-width="10.7" stroke-linejoin="round"/>
<g fill="#ff0000">
<circle cx="242.00" cy="1366.00" r="17.75"/>
<circle cx="242.16" cy="1366.00" r="17.75"/>
<circle cx="242.34" cy="1366.00" r="17.75"/>
<circle cx="242.56" cy="1366.00" r="17.75"/>
<circle cx="242.80" cy="1366.00" r="17.75"/>
<circle cx="243.09" cy="1366.00" r="17.75"/>
<circle cx="243.42" cy="1366.00" r="17.75"/>
<circle cx="243.80" cy="1366.00" r="17.75"/>
<circle cx="244.24" cy="1366.00" r="17.75"/>
<circle cx="244.76" cy="1366.00" r="17.75"/>
<circle cx="245.35" cy="1366.00" r="17.75"/>
<circle cx="246.04" cy="1366.00" r="17.75"/>
<circle cx="246.84" cy="1366.00" r="17.75"/>
<circle cx="247.76" cy="1366.00" r="17.75"/>
<circle cx="248.83" cy="1366.00" r="17.75"/>
<circle cx="250.06" cy="1366.00" r="17.75"/>
<circle cx="251.50" cy="1366.00" r="17.75"/>
<circle cx="253.15" cy="1366.00" r="17.75"/>
<circle cx="255.08" cy="1366.00" r="17.75"/>
<circle cx="257.30" cy="1366.00" r="17.75"/>
<circle cx="259.88" cy="1366.00" r="17.75"/>
<circle cx="262.86" cy="1366.00" r="17.75"/>
<circle cx="266.32" cy="1366.00" r="17.75"/>
<circle cx="270.32" cy="1366.00" r="17.75"/>
<circle cx="274.96" cy="1366.00" r="17.75"/>
<circle cx="280.32" cy="1366.00" r="17.75"/>
<circle cx="286.54" cy="1366.00" r="17.75"/>
<circle cx="293.74" cy="1366.00" r="17.75"/>
<circle cx="302.08" cy="1366.00" r="17.75"/>
<circle cx="311.73" cy="1366.00" r="17.75"/>
<circle cx="322.91" cy="1366.00" r="17.75"/>
<circle cx="335.86" cy="1366.00" r="17.75"/>
<circle cx="350.86" cy="1366.00" r="17.75"/>
<circle cx="368.22" cy="1366.00" r="17.75"/>
<circle cx="388.33" cy="1366.00" r="17.75"/>
<circle cx="411.62" cy="1366.00" r="17.75"/>
<circle cx="438.59" cy="1366.00" r="17.75"/>
<circle cx="469.83" cy="1366.00" r="17.75"/>
<circle cx="506.00" cy="1366.00" r="17.75"/>
<circle cx="547.89" cy="1366.00" r="17.75"/>
<circle cx="596.41" cy="1366.00" r="17.75"/>
<circle cx="652.59" cy="1366.00" r="17.75"/>
<circle cx="717.65" cy="1366.00" r="17.75"/>
<circle cx="793.00" cy="1366.00" r="17.75"/>
<circle cx="880.26" cy="1366.00" r="17.75"/>
<circle cx="981.32" cy="1264.28" r="17.75"/>
<circle cx="1098.35" cy="964.42" r="17.75"/>
<circle cx="1233.88" cy="680.53" r="17.75"/>
<circle cx="1390.83" cy="676.77" r="17.75"/>
<circle cx="1572.59" cy="890.24" r="17.75"/>
<circle cx="1783.09" cy="1108.71" r="17.75"/>
<circle cx="2026.86" cy="1222.65" r="17.75"/>
</g>
<path d="M242.0,1366.0 L244.5,1366.0 L247.0,1366.0 L249.5,1366.0 L252.1,1366.0 L254.6,1366.0 L257.1,1366.0 L259.6,1366.0 L262.2,1366.0 L264.7,1366.0 L267.2,1366.0 L269.8,1366.0 L272.4,1366.0 L274.9,1366.0 L277.5,1366.0 L280.1,1366.0 L282.6,1366.0 L285.2,1366.0 L287.7,1366.0 L290.3,1366.0 L292.9,1366.0 L295.5,1366.0 L298.1,1366.0 L300.7,1366.0 L303.2,1366.0 L305.8,1366.0 L308.4,1366.0 L311.0,1366.0 L313.6,1366.0 L316.1,1366.0 L318.7,1366.0 L321.2,1366.0 L323.8,1366.0 L326.5,1366.0 L329.0,1366.0 L331.7,1366.0 L334.4,1366.0 L336.9,1366.0 L339.5,1366.0 L342.2,1366.0 L344.7,1366.0 L347.3,1366.0 L349.9,1366.0 L352.6,1366.0 L355.4,1366.0 L357.9,1366.0 L360.5,1366.0 L363.2,1366.0 L365.9,1366.0 L368.7,1366.0 L371.2,1366.0 L373.8,1366.0 L376.4,1366.0 L379.1,1366.0 L381.8,1366.0 L384.6,1366.0 L387.4,1366.0 L390.0,1366.0 L392.5,1366.0 L395.1,1366.0 L397.8,1366.0 L400.5,1366.0 L403.3,1366.0 L406.1,1366.0 L408.9,1366.0 L411.8,1366.0 L414.3,1366.0 L416.9,1366.0 L419.5,1366.0 L422.1,1366.0 L424.8,1366.0 L427.5,1366.0 L430.3,1366.0 L433.1,1366.0 L435.9,1366.0 L438.8,1366.0 L441.7,1366.0 L444.7,1366.0 L447.2,1366.0 L449.8,1366.0 L452.3,1366.0 L454.9,1366.0 L457.6,1366.0 L460.2,1366.0 L462.9,1366.0 L465.7,1366.0 L468.4,1366.0 L471.2,1366.0 L474.0,1366.0 L476.9,1366.0 L479.8,1366.0 L482.8,1366.0 L485.7,1366.0 L488.7,1366.0 L491.8,1366.0 L494.9,1366.0 L498.0,1366.0 L500.5,1366.0 L503.1,1366.0 L505.7,1366.0 L508.3,1366.0 L510.9,1366.0 L513.5,1366.0 L516.2,1366.0 L518.9,1366.0 L521.7,1366.0 L524.4,1366.0 L527.2,1366.0 L530.0,1366.0 L532.9,1366.0 L535.7,1366.0 L538.6,1366.0 L541.6,1366.0 L544.5,1366.0 L547.5,1366.0 L550.5,1366.0 L553.6,1366.0 L556.6,1366.0 L559.7,1366.0 L562.9,1366.0 L566.0,1366.0 L569.2,1366.0 L572.4,1366.0 L575.7,1366.0 L579.0,1366.0 L582.3,1366.0 L584.8,1366.0 L587.4,1366.0 L589.9,1366.0 L592.5,1366.0 L595.1,1366.0 L597.7,1366.0 L600.3,1366.0 L603.0,1366.0 L605.6,1366.0 L608.3,1366.0 L611.0,1366.0 L613.7,1366.0 L616.5,1366.0 L619.3,1366.0 L622.0,1366.0 L624.8,1366.0 L627.7,1366.0 L630.5,1366.0 L633.4,1366.0 L636.3,1366.0 L639.2,1366.0 L642.1,1366.0 L645.1,1366.0 L648.1,1366.0 L651.1,1366.0 L654.1,1366.0 L657.1,1366.0 L660.2,1366.0 L663.3,1366.0 L666.4,1366.0 L669.5,1366.0 L672.7,1366.0 L675.8,1366.0 L679.0,1366.0 L682.3,1366.0 L685.5,1366.0 L688.8,1366.0 L692.1,1366.0 L695.4,1366.0 L698.8,1366.0 L702.1,1366.0 L705.5,1366.0 L709.0,1366.0 L712.4,1366.0 L715.9,1366.0 L719.4,1366.0 L722.9,1366.0 L726.4,1366.0 L730.0,1366.0 L733.6,1366.0 L737.2,1366.0 L740.9,1366.0 L744.6,1366.0 L748.3,1366.0 L752.0,1366.0 L754.5,1366.0 L757.1,1366.0 L759.6,1366.0 L762.1,1366.0 L764.7,1366.0 L767.3,1366.0 L769.8,1366.0 L772.4,1366.0 L775.0,1366.0 L777.6,1366.0 L780.3,1366.0 L782.9,1366.0 L785.6,1366.0 L788.3,1366.0 L790.9,1366.0 L793.6,1366.0 L796.3,1366.0 L799.1,1366.0 L801.8,1366.0 L804.6,1366.0 L807.3,1366.0 L810.1,1366.0 L812.9,1366.0 L815.7,1366.0 L818.5,1366.0 L821.3,1366.0 L824.2,1366.0 L827.0,1366.0 L829.9,1366.0 L832.8,1366.0 L835.7,1366.0 L838.6,1366.0 L841.6,1366.0 L844.5,1366.0 L847.5,1366.0 L850.4,1366.0 L853.4,1366.0 L856.4,1366.0 L859.5,1366.0 L862.5,1366.0 L865.5,1366.0 L868.6,1366.0 L871.7,1366.0 L874.8,1366.0 L877.9,1366.0 L881.0,1366.0 L884.1,1366.0 L887.3,1366.0 L890.5,1366.0 L893.6,1365.9 L896.8,1365.8 L900.1,1365.7 L903.3,1365.5 L906.5,1365.2 L909.8,1364.9 L913.1,1364.5 L916.4,1363.9 L919.7,1363.3 L923.0,1362.5 L926.4,1361.6 L929.7,1360.6 L933.1,1359.3 L936.5,1358.0 L939.9,1356.4 L943.3,1354.7 L946.8,1352.7 L950.2,1350.6 L953.7,1348.2 L957.2,1345.6 L960.7,1342.8 L964.3,1339.7 L967.8,1336.4 L969.6,1334.6 L971.4,1332.7 L973.2,1330.8 L974.9,1328.8 L976.7,1326.8 L978.5,1324.6 L980.4,1322.4 L982.2,1320.1 L984.0,1317.7 L985.8,1315.3 L987.6,1312.8 L989.5,1310.1 L991.3,1307.4 L993.1,1304.7 L995.0,1301.8 L996.8,1298.9 L998.7,1295.8 L1000.5,1292.7 L1002.4,1289.6 L1004.2,1286.3 L1006.1,1282.9 L1008.0,1279.5 L1009.9,1276.0 L1011.7,1272.4 L1013.6,1268.7 L1015.5,1264.9 L1017.4,1261.0 L1019.3,1257.1 L1021.2,1253.1 L1023.1,1249.0 L1025.1,1244.8 L1027.0,1240.5 L1028.9,1236.1 L1030.8,1231.6 L1032.8,1227.1 L1034.7,1222.5 L1036.6,1217.8 L1038.6,1212.9 L1040.6,1208.1 L1042.5,1203.1 L1044.5,1198.0 L1046.4,1192.8 L1048.4,1187.6 L1050.4,1182.3 L1052.4,1176.8 L1054.4,1171.3 L1056.4,1165.7 L1058.3,1160.0 L1060.4,1154.2 L1062.4,1148.4 L1064.4,1142.4 L1066.4,1136.3 L1068.4,1130.2 L1070.4,1124.0 L1072.5,1117.6 L1074.5,1111.2 L1076.5,1104.7 L1078.6,1098.1 L1080.6,1091.4 L1082.7,1084.6 L1084.8,1077.7 L1086.8,1070.7 L1088.9,1063.7 L1091.0,1056.5 L1093.1,1049.2 L1095.1,1041.9 L1097.2,1034.4 L1099.3,1026.9 L1101.4,1019.2 L1103.5,1011.5 L1105.7,1003.7 L1107.8,995.8 L1109.9,987.8 L1112.0,979.7 L1114.2,971.5 L1116.3,963.3 L1118.4,955.0 L1120.6,946.6 L1122.7,938.2 L1124.9,929.7 L1127.1,921.2 L1129.2,912.6 L1131.4,903.9 L1133.6,895.2 L1135.8,886.5 L1138.0,877.7 L1140.2,868.9 L1142.4,860.1 L1144.6,851.2 L1146.8,842.4 L1149.0,833.5 L1151.2,824.5 L1153.5,815.6 L1155.7,806.7 L1157.9,797.7 L1160.2,788.8 L1162.4,779.8 L1164.7,770.9 L1166.9,761.9 L1169.2,753.0 L1171.5,744.1 L1173.8,735.2 L1176.0,726.4 L1178.3,717.5 L1180.6,708.7 L1182.9,700.0 L1185.2,691.2 L1187.6,682.6 L1189.9,673.9 L1192.2,665.3 L1194.5,656.8 L1196.9,648.3 L1199.2,639.9 L1201.5,631.5 L1203.9,623.2 L1206.3,615.0 L1208.6,606.8 L1211.0,598.8 L1213.4,590.8 L1215.8,582.9 L1218.1,575.0 L1220.5,567.3 L1222.9,559.7 L1225.3,552.1 L1227.7,544.7 L1230.2,537.4 L1232.6,530.2 L1235.0,523.1 L1237.4,516.1 L1239.9,509.2 L1242.3,502.5 L1244.8,495.9 L1247.2,489.4 L1249.7,483.0 L1252.2,476.8 L1254.7,470.7 L1257.1,464.7 L1259.6,458.8 L1262.1,453.1 L1264.6,447.5 L1267.1,442.1 L1269.6,436.7 L1272.2,431.6 L1274.7,426.5 L1277.2,421.6 L1279.8,416.8 L1282.3,412.2 L1284.8,407.7 L1287.4,403.4 L1290.0,399.2 L1292.5,395.1 L1295.1,391.2 L1297.7,387.4 L1300.3,383.8 L1302.9,380.4 L1305.5,377.1 L1308.1,373.9 L1310.7,370.9 L1313.3,368.0 L1315.9,365.3 L1318.6,362.8 L1321.2,360.4 L1323.9,358.2 L1326.5,356.1 L1329.2,354.2 L1331.8,352.5 L1334.5,350.9 L1337.2,349.5 L1339.9,348.3 L1342.6,347.2 L1345.3,346.3 L1348.0,345.6 L1350.7,345.0 L1353.4,344.6 L1356.1,344.4 L1358.8,344.3 L1361.6,344.5 L1364.3,344.8 L1367.1,345.3 L1369.8,345.9 L1372.6,346.8 L1375.4,347.8 L1378.2,349.0 L1380.9,350.4 L1383.7,352.0 L1386.5,353.7 L1389.3,355.7 L1392.1,357.8 L1395.0,360.1 L1397.8,362.6 L1400.6,365.3 L1403.5,368.2 L1406.3,371.3 L1409.2,374.5 L1412.0,378.0 L1414.9,381.6 L1417.8,385.3 L1420.7,389.2 L1423.5,393.3 L1426.4,397.6 L1429.3,402.0 L1432.2,406.5 L1435.2,411.2 L1438.1,416.1 L1441.0,421.1 L1444.0,426.2 L1446.9,431.5 L1449.9,436.9 L1452.8,442.4 L1455.8,448.1 L1458.8,453.9 L1461.7,459.8 L1464.7,465.8 L1467.7,471.9 L1470.7,478.2 L1473.7,484.5 L1476.8,491.0 L1479.8,497.6 L1482.8,504.2 L1485.9,511.0 L1488.9,517.8 L1492.0,524.8 L1495.0,531.8 L1498.1,538.9 L1501.2,546.1 L1504.3,553.4 L1507.4,560.7 L1510.5,568.1 L1513.6,575.6 L1516.7,583.1 L1519.8,590.7 L1523.0,598.4 L1526.1,606.1 L1529.2,613.8 L1532.4,621.6 L1535.6,629.5 L1538.7,637.4 L1541.9,645.3 L1545.1,653.3 L1548.3,661.3 L1551.5,669.3 L1554.7,677.4 L1557.9,685.5 L1561.1,693.5 L1564.4,701.7 L1567.6,709.8 L1570.9,717.9 L1574.1,726.1 L1577.4,734.2 L1580.7,742.4 L1583.9,750.5 L1587.2,758.6 L1590.5,766.8 L1593.8,774.9 L1597.1,783.0 L1600.5,791.1 L1603.8,799.2 L1607.1,807.3 L1610.5,815.4 L1613.8,823.5 L1617.2,831.5 L1620.6,839.5 L1623.9,847.5 L1627.3,855.5 L1630.7,863.5 L1634.1,871.4 L1637.5,879.3 L1641.0,887.2 L1644.4,895.0 L1647.8,902.8 L1651.3,910.6 L1654.7,918.4 L1658.2,926.1 L1661.7,933.7 L1665.1,941.4 L1668.6,949.0 L1672.1,956.5 L1675.6,964.0 L1679.1,971.5 L1682.7,978.9 L1686.2,986.2 L1689.7,993.5 L1693.3,1000.8 L1696.8,1008.0 L1700.4,1015.1 L1704.0,1022.2 L1707.6,1029.2 L1711.1,1036.2 L1714.7,1043.1 L1718.4,1049.9 L1722.0,1056.7 L1725.6,1063.4 L1729.2,1070.0 L1732.9,1076.6 L1736.5,1083.1 L1740.2,1089.5 L1743.9,1095.9 L1747.6,1102.1 L1751.2,1108.3 L1754.9,1114.4 L1758.6,1120.5 L1762.4,1126.4 L1766.1,1132.3 L1769.8,1138.0 L1773.6,1143.7 L1777.3,1149.3 L1781.1,1154.8 L1784.9,1160.2 L1788.6,1165.5 L1792.4,1170.7 L1796.2,1175.9 L1800.0,1180.9 L1803.9,1185.8 L1807.7,1190.7 L1811.5,1195.4 L1815.4,1200.1 L1819.2,1204.7 L1823.1,1209.1 L1827.0,1213.5 L1830.8,1217.8 L1834.7,1222.1 L1838.6,1226.2 L1842.6,1230.2 L1846.5,1234.2 L1850.4,1238.1 L1854.3,1241.9 L1858.3,1245.6 L1862.3,1249.3 L1866.2,1252.9 L1870.2,1256.3 L1874.2,1259.8 L1878.2,1263.1 L1882.2,1266.4 L1886.2,1269.6 L1890.3,1272.7 L1894.3,1275.7 L1898.3,1278.7 L1902.4,1281.6 L1906.5,1284.4 L1910.6,1287.2 L1914.6,1289.9 L1918.7,1292.6 L1922.8,1295.1 L1927.0,1297.6 L1931.1,1300.1 L1935.2,1302.5 L1939.4,1304.8 L1943.5,1307.0 L1947.7,1309.2 L1951.9,1311.4 L1956.1,1313.5 L1960.3,1315.5 L1964.5,1317.5 L1968.7,1319.4 L1972.9,1321.2 L1977.2,1323.1 L1981.4,1324.8 L1985.7,1326.5 L1990.0,1328.2 L1994.3,1329.8 L1998.6,1331.3 L2002.9,1332.9 L2007.2,1334.3 L2011.5,1335.7 L2015.8,1337.1 L2020.2,1338.5 L2024.5,1339.8 L2028.9,1341.0 L2033.3,1342.2 L2037.7,1343.4 L2042.1,1344.5 L2046.5,1345.6 L2050.9,1346.7 L2055.3,1347.7 L2059.7,1348.7 L2064.2,1349.6 L2068.6,1350.5 L2073.0,1351.4 L2077.4,1352.2 L2081.8,1353.0 L2086.2,1353.8 L2090.6,1354.6 L2095.0,1355.3 L2099.4,1356.0 L2103.8,1356.6 L2108.1,1357.2 L2112.5,1357.8 L2116.8,1358.4 L2121.1,1359.0 L2125.4,1359.5 L2129.7,1360.0 L2133.9,1360.4 L2138.2,1360.9 L2142.4,1361.3 L2146.5,1361.7 L2150.7,1362.0 L2154.8,1362.4 L2158.9,1362.7 L2162.9,1363.0 L2167.0,1363.3 L2170.9,1363.6 L2174.9,1363.8 L2178.8,1364.1 L2182.7,1364.3 L2186.5,1364.5 L2190.3,1364.7 L2194.0,1364.8 L2197.7,1365.0 L2201.4,1365.1 L2205.0,1365.2 L2208.5,1365.4 L2212.0,1365.5 L2215.5,1365.5 L2218.8,1365.6 L2222.2,1365.7 L2225.5,1365.8 L2228.7,1365.8 L2231.8,1365.9 L2234.9,1365.9 L2238.0,1365.9 L2240.9,1365.9 L2243.8,1366.0 L2246.6,1366.0 L2249.4,1366.0 L2252.1,1366.0 L2254.7,1366.0 L2257.3,1366.0 L2262.1,1366.0 L2266.7,1366.0 L2270.9,1366.0 L2274.9,1366.0 L2278.5,1366.0 L2281.9,1366.0 L2285.1,1366.0 L2288.0,1366.0 L2290.6,1366.0 L2294.2,1366.0 L2297.2,1366.0 L2299.8,1366.0 L2299.8,1366.0" fill="none" stroke="#0000ff" stroke-width="10.7" stroke-linejoin="round"/>
<g fill="#0000ff">
<path d="M242.00,1340.02L264.50,1378.99L219.50,1378.99Z"/>
<path d="M242.16,1340.02L264.66,1378.99L219.66,1378.99Z"/>
<path d="M242.34,1340.02L264.84,1378.99L219.84,1378.99Z"/>
<path d="M242.56,1340.02L265.06,1378.99L220.06,1378.99Z"/>
<path d="M242.80,1340.02L265.30,1378.99L220.30,1378.99Z"/>
<path d="M243.09,1340.02L265.59,1378.99L220.59,1378.99Z"/>
<path d="M243.42,1340.02L265.92,1378.99L220.92,1378.99Z"/>
<path d="M243.80,1340.02L266.30,1378.99L221.30,1378.99Z"/>
<path d="M244.24,1340.02L266.74,1378.99L221.74,1378.99Z"/>
<path d="M244.76,1340.02L267.26,1378.99L222.26,1378.99Z"/>
<path d="M245.35,1340.02L267.85,1378.99L222.85,1378.99Z"/>
<path d="M246.04,1340.02L268.54,1378.99L223.54,1378.99Z"/>
<path d="M246.84,1340.02L269.34,1378.99L224.34,1378.99Z"/>
<path d="M247.76,1340.02L270.26,1378.99L225.26,1378.99Z"/>
<path d="M248.83,1340.02L271.33,1378.99L226.33,1378.99Z"/>
<path d="M250.06,1340.02L272.56,1378.99L227.56,1378.99Z"/>
<path d="M251.50,1340.02L274.00,1378.99L229.00,1378.99Z"/>
<path d="M253.15,1340.02L275.65,1378.99L230.65,1378.99Z"/>
<path d="M255.08,1340.02L277.58,1378.99L232.58,1378.99Z"/>
<path d="M257.30,1340.02L279.80,1378.99L234.80,1378.99Z"/>
<path d="M259.88,1340.02L282.38,1378.99L237.38,1378.99Z"/>
<path d="M262.86,1340.02L285.36,1378.99L240.36,1378.99Z"/>
<path d="M266.32,1340.02L288.82,1378.99L243.82,1378.99Z"/>
<path d="M270.32,1340.02L292.82,1378.99L247.82,1378.99Z"/>
<path d="M274.96,1340.02L297.46,1378.99L252.46,1378.99Z"/>
<path d="M280.32,1340.02L302.82,1378.99L257.82,1378.99Z"/>
<path d="M286.54,1340.02L309.04,1378.99L264.04,1378.99Z"/>
<path d="M293.74,1340.02L316.24,1378.99L271.24,1378.99Z"/>
<path d="M302.08,1340.02L324.58,1378.99L279.58,1378.99Z"/>
<path d="M311.73,1340.02L334.23,1378.99L289.23,1378.99Z"/>
<path d="M322.91,1340.02L345.41,1378.99L300.41,1378.99Z"/>
<path d="M335.86,1340.02L358.36,1378.99L313.36,1378.99Z"/>
<path d="M350.86,1340.02L373.36,1378.99L328.36,1378.99Z"/>
<path d="M368.22,1340.02L390.72,1378.99L345.72,1378.99Z"/>
<path d="M388.33,1340.02L410.83,1378.99L365.83,1378.99Z"/>
<path d="M411.62,1340.02L434.12,1378.99L389.12,1378.99Z"/>
<path d="M438.59,1340.02L461.09,1378.99L416.09,1378.99Z"/>
<path d="M469.83,1340.02L492.33,1378.99L447.33,1378.99Z"/>
<path d="M506.00,1340.02L528.50,1378.99L483.50,1378.99Z"/>
<path d="M547.89,1340.02L570.39,1378.99L525.39,1378.99Z"/>
<path d="M596.41,1340.02L618.91,1378.99L573.91,1378.99Z"/>
<path d="M652.59,1340.02L675.09,1378.99L630.09,1378.99Z"/>
<path d="M717.65,1340.02L740.15,1378.99L695.15,1378.99Z"/>
<path d="M793.00,1340.02L815.50,1378.99L770.50,1378.99Z"/>
<path d="M880.26,1340.02L902.76,1378.99L857.76,1378.99Z"/>
<path d="M981.32,1340.02L1003.82,1378.99L958.82,1378.99Z"/>
<path d="M1098.35,1050.49L1120.85,1089.47L1075.85,1089.47Z"/>
<path d="M1233.88,417.61L1256.38,456.58L1211.38,456.58Z"/>
<path d="M1390.83,219.79L1413.33,258.76L1368.33,258.76Z"/>
<path d="M1572.59,708.07L1595.09,747.04L1550.09,747.04Z"/>
<path d="M1783.09,1197.29L1805.59,1236.26L1760.59,1236.26Z"/>
<path d="M2026.86,1340.02L2049.36,1378.99L2004.36,1378.99Z"/>
</g>
<path d="M242.0,1366.0 L244.5,1366.0 L247.0,1366.0 L249.5,1366.0 L252.1,1366.0 L254.6,1366.0 L257.1,1366.0 L259.6,1366.0 L262.2,1366.0 L264.7,1366.0 L267.2,1366.0 L269.8,1366.0 L272.4,1366.0 L274.9,1366.0 L277.5,1366.0 L280.1,1366.0 L282.6,1366.0 L285.2,1366.0 L287.7,1366.0 L290.3,1366.0 L292.9,1366.0 L295.5,1366.0 L298.1,1366.0 L300.7,1366.0 L303.2,1366.0 L305.8,1366.0 L308.4,1366.0 L311.0,1366.0 L313.6,1366.0 L316.1,1366.0 L318.7,1366.0 L321.2,1366.0 L323.8,1366.0 L326.5,1366.0 L329.0,1366.0 L331.7,1366.0 L334.4,1366.0 L336.9,1366.0 L339.5,1366.0 L342.2,1366.0 L344.7,1366.0 L347.3,1366.0 L349.9,1366.0 L352.6,1366.0 L355.4,1366.0 L357.9,1366.0 L360.5,1366.0 L363.2,1366.0 L365.9,1366.0 L368.7,1366.0 L371.2,1366.0 L373.8,1366.0 L376.4,1366.0 L379.1,1366.0 L381.8,1366.0 L384.6,1366.0 L387.4,1366.0 L390.0,1366.0 L392.5,1366.0 L395.1,1366.0 L397.8,1366.0 L400.5,1366.0 L403.3,1366.0 L406.1,1366.0 L408.9,1366.0 L411.8,1366.0 L414.3,1366.0 L416.9,1366.0 L419.5,1366.0 L422.1,1366.0 L424.8,1366.0 L427.5,1366.0 L430.3,1366.0 L433.1,1366.0 L435.9,1366.0 L438.8,1366.0 L441.7,1366.0 L444.7,1366.0 L447.2,1366.0 L449.8,1366.0 L452.3,1366.0 L454.9,1366.0 L457.6,1366.0 L460.2,1366.0 L462.9,1366.0 L465.7,1366.0 L468.4,1366.0 L471.2,1366.0 L474.0,1366.0 L476.9,1366.0 L479.8,1366.0 L482.8,1366.0 L485.7,1366.0 L488.7,1366.0 L491.8,1366.0 L494.9,1366.0 L498.0,1366.0 L500.5,1366.0 L503.1,1366.0 L505.7,1366.0 L508.3,1366.0 L510.9,1366.0 L513.5,1366.0 L516.2,1366.0 L518.9,1366.0 L521.7,1366.0 L524.4,1366.0 L527.2,1366.0 L530.0,1366.0 L532.9,1366.0 L535.7,1366.0 L538.6,1366.0 L541.6,1366.0 L544.5,1366.0 L547.5,1366.0 L550.5,1366.0 L553.6,1366.0 L556.6,1366.0 L559.7,1366.0 L562.9,1366.0 L566.0,1366.0 L569.2,1366.0 L572.4,1366.0 L575.7,1366.0 L579.0,1366.0 L582.3,1366.0 L584.8,1366.0 L587.4,1366.0 L589.9,1366.0 L592.5,1366.0 L595.1,1366.0 L597.7,1366.0 L600.3,1366.0 L603.0,1366.0 L605.6,1366.0 L608.3,1366.0 L611.0,1366.0 L613.7,1366.0 L616.5,1366.0 L619.3,1366.0 L622.0,1366.0 L624.8,1366.0 L627.7,1366.0 L630.5,1366.0 L633.4,1366.0 L636.3,1366.0 L639.2,1366.0 L642.1,1366.0 L645.1,1366.0 L648.1,1366.0 L651.1,1366.0 L654.1,1366.0 L657.1,1366.0 L660.2,1366.0 L663.3,1366.0 L666.4,1366.0 L669.5,1366.0 L672.7,1366.0 L675.8,1366.0 L679.0,1366.0 L682.3,1366.0 L685.5,1366.0 L688.8,1366.0 L692.1,1366.0 L695.4,1366.0 L698.8,1366.0 L702.1,1366.0 L705.5,1366.0 L709.0,1366.0 L712.4,1366.0 L715.9,1366.0 L719.4,1366.0 L722.9,1366.0 L726.4,1366.0 L730.0,1366.0 L733.6,1366.0 L737.2,1366.0 L740.9,1366.0 L744.6,1366.0 L748.3,1366.0 L752.0,1366.0 L754.5,1366.0 L757.1,1366.0 L759.6,1366.0 L762.1,1366.0 L764.7,1366.0 L767.3,1366.0 L769.8,1366.0 L772.4,1366.0 L775.0,1366.0 L777.6,1366.0 L780.3,1366.0 L782.9,1366.0 L785.6,1366.0 L788.3,1366.0 L790.9,1366.0 L793.6,1366.0 L796.3,1366.0 L799.1,1366.0 L801.8,1366.0 L804.6,1366.0 L807.3,1366.0 L810.1,1366.0 L812.9,1366.0 L815.7,1366.0 L818.5,1366.0 L821.3,1366.0 L824.2,1366.0 L827.0,1366.0 L829.9,1366.0 L832.8,1366.0 L835.7,1366.0 L838.6,1366.0 L841.6,1366.0 L844.5,1366.0 L847.5,1366.0 L850.4,1366.0 L853.4,1366.0 L856.4,1366.0 L859.5,1366.0 L862.5,1366.0 L865.5,1366.0 L868.6,1366.0 L871.7,1366.0 L874.8,1366.0 L877.9,1366.0 L881.0,1366.0 L884.1,1366.0 L887.3,1366.0 L890.5,1366.0 L893.6,1366.0 L896.8,1366.0 L900.1,1366.0 L903.3,1366.0 L906.5,1366.0 L909.8,1366.0 L913.1,1366.0 L916.4,1366.0 L919.7,1366.0 L923.0,1366.0 L926.4,1366.0 L929.7,1366.0 L933.1,1366.0 L936.5,1366.0 L939.9,1366.0 L943.3,1366.0 L946.8,1366.0 L950.2,1366.0 L953.7,1366.0 L957.2,1366.0 L960.7,1366.0 L964.3,1366.0 L967.8,1366.0 L971.4,1366.0 L974.9,1366.0 L978.5,1366.0 L982.2,1366.0 L985.8,1366.0 L989.5,1366.0 L993.1,1366.0 L996.8,1365.9 L1000.5,1365.8 L1004.2,1365.6 L1008.0,1365.4 L1011.7,1365.1 L1015.5,1364.7 L1019.3,1364.2 L1023.1,1363.5 L1027.0,1362.7 L1030.8,1361.8 L1034.7,1360.7 L1038.6,1359.4 L1042.5,1358.0 L1046.4,1356.3 L1050.4,1354.5 L1054.4,1352.4 L1058.3,1350.1 L1062.4,1347.5 L1066.4,1344.6 L1068.4,1343.1 L1070.4,1341.5 L1072.5,1339.8 L1074.5,1338.1 L1076.5,1336.3 L1078.6,1334.4 L1080.6,1332.4 L1082.7,1330.3 L1084.8,1328.2 L1086.8,1326.0 L1088.9,1323.7 L1091.0,1321.3 L1093.1,1318.8 L1095.1,1316.2 L1097.2,1313.6 L1099.3,1310.8 L1101.4,1307.9 L1103.5,1305.0 L1105.7,1301.9 L1107.8,1298.8 L1109.9,1295.5 L1112.0,1292.2 L1114.2,1288.8 L1116.3,1285.2 L1118.4,1281.6 L1120.6,1277.9 L1122.7,1274.0 L1124.9,1270.1 L1127.1,1266.1 L1129.2,1262.0 L1131.4,1257.7 L1133.6,1253.4 L1135.8,1249.0 L1138.0,1244.4 L1140.2,1239.8 L1142.4,1235.1 L1144.6,1230.3 L1146.8,1225.3 L1149.0,1220.3 L1151.2,1215.2 L1153.5,1209.9 L1155.7,1204.6 L1157.9,1199.2 L1160.2,1193.6 L1162.4,1188.0 L1164.7,1182.3 L1166.9,1176.4 L1169.2,1170.5 L1171.5,1164.4 L1173.8,1158.3 L1176.0,1152.0 L1178.3,1145.7 L1180.6,1139.2 L1182.9,1132.6 L1185.2,1126.0 L1187.6,1119.2 L1189.9,1112.3 L1192.2,1105.3 L1194.5,1098.3 L1196.9,1091.1 L1199.2,1083.8 L1201.5,1076.4 L1203.9,1068.9 L1206.3,1061.3 L1208.6,1053.5 L1211.0,1045.7 L1213.4,1037.8 L1215.8,1029.7 L1218.1,1021.6 L1220.5,1013.3 L1222.9,1005.0 L1225.3,996.5 L1227.7,987.9 L1230.2,979.3 L1232.6,970.5 L1235.0,961.6 L1237.4,952.6 L1239.9,943.5 L1242.3,934.3 L1244.8,924.9 L1247.2,915.5 L1249.7,906.0 L1252.2,896.4 L1254.7,886.8 L1257.1,877.1 L1259.6,867.2 L1262.1,857.4 L1264.6,847.4 L1267.1,837.5 L1269.6,827.4 L1272.2,817.3 L1274.7,807.2 L1277.2,797.1 L1279.8,786.9 L1282.3,776.7 L1284.8,766.4 L1287.4,756.2 L1290.0,745.9 L1292.5,735.6 L1295.1,725.4 L1297.7,715.1 L1300.3,704.8 L1302.9,694.6 L1305.5,684.3 L1308.1,674.1 L1310.7,664.0 L1313.3,653.8 L1315.9,643.7 L1318.6,633.6 L1321.2,623.6 L1323.9,613.6 L1326.5,603.7 L1329.2,593.8 L1331.8,584.0 L1334.5,574.3 L1337.2,564.7 L1339.9,555.1 L1342.6,545.6 L1345.3,536.2 L1348.0,526.9 L1350.7,517.7 L1353.4,508.6 L1356.1,499.7 L1358.8,490.8 L1361.6,482.0 L1364.3,473.4 L1367.1,464.9 L1369.8,456.6 L1372.6,448.3 L1375.4,440.2 L1378.2,432.3 L1380.9,424.5 L1383.7,416.9 L1386.5,409.4 L1389.3,402.2 L1392.1,395.0 L1395.0,388.1 L1397.8,381.3 L1400.6,374.7 L1403.5,368.3 L1406.3,362.1 L1409.2,356.1 L1412.0,350.2 L1414.9,344.6 L1417.8,339.1 L1420.7,333.8 L1423.5,328.7 L1426.4,323.8 L1429.3,319.1 L1432.2,314.5 L1435.2,310.2 L1438.1,306.0 L1441.0,302.1 L1444.0,298.3 L1446.9,294.7 L1449.9,291.3 L1452.8,288.1 L1455.8,285.1 L1458.8,282.3 L1461.7,279.7 L1464.7,277.2 L1467.7,275.0 L1470.7,273.0 L1473.7,271.1 L1476.8,269.5 L1479.8,268.1 L1482.8,266.8 L1485.9,265.8 L1488.9,264.9 L1492.0,264.3 L1495.0,263.8 L1498.1,263.6 L1501.2,263.5 L1504.3,263.7 L1507.4,264.0 L1510.5,264.6 L1513.6,265.4 L1516.7,266.3 L1519.8,267.5 L1523.0,268.9 L1526.1,270.5 L1529.2,272.3 L1532.4,274.3 L1535.6,276.5 L1538.7,278.9 L1541.9,281.5 L1545.1,284.4 L1548.3,287.4 L1551.5,290.7 L1554.7,294.1 L1557.9,297.8 L1561.1,301.7 L1564.4,305.8 L1567.6,310.1 L1570.9,314.6 L1574.1,319.4 L1577.4,324.3 L1580.7,329.5 L1583.9,334.9 L1587.2,340.5 L1590.5,346.3 L1593.8,352.3 L1597.1,358.4 L1600.5,364.8 L1603.8,371.3 L1607.1,378.1 L1610.5,385.0 L1613.8,392.0 L1617.2,399.3 L1620.6,406.6 L1623.9,414.2 L1627.3,421.9 L1630.7,429.7 L1634.1,437.6 L1637.5,445.7 L1641.0,454.0 L1644.4,462.3 L1647.8,470.8 L1651.3,479.4 L1654.7,488.1 L1658.2,496.9 L1661.7,505.8 L1665.1,514.8 L1668.6,523.9 L1672.1,533.1 L1675.6,542.3 L1679.1,551.6 L1682.7,561.0 L1686.2,570.5 L1689.7,580.1 L1693.3,589.6 L1696.8,599.3 L1700.4,609.0 L1704.0,618.7 L1707.6,628.5 L1711.1,638.3 L1714.7,648.1 L1718.4,658.0 L1722.0,667.8 L1725.6,677.7 L1729.2,687.6 L1732.9,697.5 L1736.5,707.4 L1740.2,717.3 L1743.9,727.2 L1747.6,737.1 L1751.2,746.9 L1754.9,756.7 L1758.6,766.5 L1762.4,776.3 L1766.1,786.0 L1769.8,795.7 L1773.6,805.3 L1777.3,814.9 L1781.1,824.4 L1784.9,833.9 L1788.6,843.2 L1792.4,852.6 L1796.2,861.8 L1800.0,871.0 L1803.9,880.1 L1807.7,889.1 L1811.5,898.0 L1815.4,906.9 L1819.2,915.7 L1823.1,924.4 L1827.0,933.0 L1830.8,941.6 L1834.7,950.1 L1838.6,958.5 L1842.6,966.8 L1846.5,975.0 L1850.4,983.2 L1854.3,991.3 L1858.3,999.3 L1862.3,1007.2 L1866.2,1015.0 L1870.2,1022.7 L1874.2,1030.4 L1878.2,1038.0 L1882.2,1045.5 L1886.2,1052.9 L1890.3,1060.2 L1894.3,1067.4 L1898.3,1074.6 L1902.4,1081.6 L1906.5,1088.6 L1910.6,1095.5 L1914.6,1102.3 L1918.7,1109.0 L1922.8,1115.6 L1927.0,1122.1 L1931.1,1128.5 L1935.2,1134.8 L1939.4,1141.1 L1943.5,1147.2 L1947.7,1153.3 L1951.9,1159.2 L1956.1,1165.1 L1960.3,1170.8 L1964.5,1176.5 L1968.7,1182.1 L1972.9,1187.5 L1977.2,1192.9 L1981.4,1198.2 L1985.7,1203.4 L1990.0,1208.4 L1994.3,1213.4 L1998.6,1218.3 L2002.9,1223.1 L2007.2,1227.7 L2011.5,1232.3 L2015.8,1236.8 L2020.2,1241.1 L2024.5,1245.4 L2028.9,1249.5 L2033.3,1253.6 L2037.7,1257.5 L2042.1,1261.4 L2046.5,1265.1 L2050.9,1268.7 L2055.3,1272.3 L2059.7,1275.7 L2064.2,1279.0 L2068.6,1282.3 L2073.0,1285.4 L2077.4,1288.5 L2081.8,1291.4 L2086.2,1294.3 L2090.6,1297.1 L2095.0,1299.8 L2099.4,1302.4 L2103.8,1305.0 L2108.1,1307.4 L2112.5,1309.8 L2116.8,1312.1 L2121.1,1314.3 L2125.4,1316.4 L2129.7,1318.5 L2133.9,1320.5 L2138.2,1322.4 L2142.4,1324.3 L2146.5,1326.1 L2150.7,1327.8 L2154.8,1329.5 L2158.9,1331.1 L2162.9,1332.6 L2167.0,1334.1 L2170.9,1335.5 L2174.9,1336.9 L2178.8,1338.2 L2182.7,1339.4 L2186.5,1340.6 L2190.3,1341.8 L2194.0,1342.9 L2197.7,1343.9 L2201.4,1345.0 L2205.0,1345.9 L2208.5,1346.8 L2212.0,1347.7 L2215.5,1348.6 L2218.8,1349.4 L2222.2,1350.1 L2225.5,1350.9 L2228.7,1351.6 L2231.8,1352.2 L2234.9,1352.9 L2238.0,1353.5 L2240.9,1354.0 L2243.8,1354.6 L2246.6,1355.1 L2249.4,1355.6 L2252.1,1356.1 L2254.7,1356.6 L2257.3,1357.0 L2259.7,1357.4 L2264.4,1358.3 L2268.8,1359.0 L2272.9,1359.7 L2276.7,1360.4 L2280.3,1361.0 L2283.5,1361.6 L2286.6,1362.1 L2289.3,1362.6 L2291.9,1363.0 L2295.2,1363.6 L2298.1,1364.1 L2299.8,1364.4" fill="none" stroke="#008584" stroke-width="10.7" stroke-linejoin="round"/>
<g fill="#008584">
<path d="M242.00,1391.98L264.50,1353.01L219.50,1353.01Z"/>
<path d="M242.16,1391.98L264.66,1353.01L219.66,1353.01Z"/>
<path d="M242.34,1391.98L264.84,1353.01L219.84,1353.01Z"/>
<path d="M242.56,1391.98L265.06,1353.01L220.06,1353.01Z"/>
<path d="M242.80,1391.98L265.30,1353.01L220.30,1353.01Z"/>
<path d="M243.09,1391.98L265.59,1353.01L220.59,1353.01Z"/>
<path d="M243.42,1391.98L265.92,1353.01L220.92,1353.01Z"/>
<path d="M243.80,1391.98L266.30,1353.01L221.30,1353.01Z"/>
<path d="M244.24,1391.98L266.74,1353.01L221.74,1353.01Z"/>
<path d="M244.76,1391.98L267.26,1353.01L222.26,1353.01Z"/>
<path d="M245.35,1391.98L267.85,1353.01L222.85,1353.01Z"/>
<path d="M246.04,1391.98L268.54,1353.01L223.54,1353.01Z"/>
<path d="M246.84,1391.98L269.34,1353.01L224.34,1353.01Z"/>
<path d="M247.76,1391.98L270.26,1353.01L225.26,1353.01Z"/>
<path d="M248.83,1391.98L271.33,1353.01L226.33,1353.01Z"/>
<path d="M250.06,1391.98L272.56,1353.01L227.56,1353.01Z"/>
<path d="M251.50,1391.98L274.00,1353.01L229.00,1353.01Z"/>
<path d="M253.15,1391.98L275.65,1353.01L230.65,1353.01Z"/>
<path d="M255.08,1391.98L277.58,1353.01L232.58,1353.01Z"/>
<path d="M257.30,1391.98L279.80,1353.01L234.80,1353.01Z"/>
<path d="M259.88,1391.98L282.38,1353.01L237.38,1353.01Z"/>
<path d="M262.86,1391.98L285.36,1353.01L240.36,1353.01Z"/>
<path d="M266.32,1391.98L288.82,1353.01L243.82,1353.01Z"/>
<path d="M270.32,1391.98L292.82,1353.01L247.82,1353.01Z"/>
<path d="M274.96,1391.98L297.46,1353.01L252.46,1353.01Z"/>
<path d="M280.32,1391.98L302.82,1353.01L257.82,1353.01Z"/>
<path d="M286.54,1391.98L309.04,1353.01L264.04,1353.01Z"/>
<path d="M293.74,1391.98L316.24,1353.01L271.24,1353.01Z"/>
<path d="M302.08,1391.98L324.58,1353.01L279.58,1353.01Z"/>
<path d="M311.73,1391.98L334.23,1353.01L289.23,1353.01Z"/>
<path d="M322.91,1391.98L345.41,1353.01L300.41,1353.01Z"/>
<path d="M335.86,1391.98L358.36,1353.01L313.36,1353.01Z"/>
<path d="M350.86,1391.98L373.36,1353.01L328.36,1353.01Z"/>
<path d="M368.22,1391.98L390.72,1353.01L345.72,1353.01Z"/>
<path d="M388.33,1391.98L410.83,1353.01L365.83,1353.01Z"/>
<path d="M411.62,1391.98L434.12,1353.01L389.12,1353.01Z"/>
<path d="M438.59,1391.98L461.09,1353.01L416.09,1353.01Z"/>
<path d="M469.83,1391.98L492.33,1353.01L447.33,1353.01Z"/>
<path d="M506.00,1391.98L528.50,1353.01L483.50,1353.01Z"/>
<path d="M547.89,1391.98L570.39,1353.01L525.39,1353.01Z"/>
<path d="M596.41,1391.98L618.91,1353.01L573.91,1353.01Z"/>
<path d="M652.59,1391.98L675.09,1353.01L630.09,1353.01Z"/>
<path d="M717.65,1391.98L740.15,1353.01L695.15,1353.01Z"/>
<path d="M793.00,1391.98L815.50,1353.01L770.50,1353.01Z"/>
<path d="M880.26,1391.98L902.76,1353.01L857.76,1353.01Z"/>
<path d="M981.32,1391.98L1003.82,1353.01L958.82,1353.01Z"/>
<path d="M1098.35,1391.98L1120.85,1353.01L1075.85,1353.01Z"/>
<path d="M1233.88,1043.61L1256.38,1004.64L1211.38,1004.64Z"/>
<path d="M1390.83,304.93L1413.33,265.96L1368.33,265.96Z"/>
<path d="M1572.59,221.05L1595.09,182.08L1550.09,182.08Z"/>
<path d="M1783.09,912.78L1805.59,873.81L1760.59,873.81Z"/>
<path d="M2026.86,1343.15L2049.36,1304.18L2004.36,1304.18Z"/>
</g>
</g>
<text class="tl" transform="translate(241.00,1617.3) scale(1,1.065)" text-anchor="middle">0</text>
<text class="tl" transform="translate(491.69,1617.3) scale(1,1.065)" text-anchor="middle">100</text>
<text class="tl" transform="translate(742.38,1617.3) scale(1,1.065)" text-anchor="middle">200</text>
<text class="tl" transform="translate(993.07,1617.3) scale(1,1.065)" text-anchor="middle">300</text>
<text class="tl" transform="translate(1243.76,1617.3) scale(1,1.065)" text-anchor="middle">400</text>
<text class="tl" transform="translate(1494.45,1617.3) scale(1,1.065)" text-anchor="middle">500</text>
<text class="tl" transform="translate(1745.14,1617.3) scale(1,1.065)" text-anchor="middle">600</text>
<text class="tl" transform="translate(1995.83,1617.3) scale(1,1.065)" text-anchor="middle">700</text>
<text class="tl" transform="translate(2246.52,1617.3) scale(1,1.065)" text-anchor="middle">800</text>
<text class="tl" transform="translate(187.6,1537.50) scale(1,1.065)" text-anchor="end">-5</text>
<text class="tl" transform="translate(190,1381.00) scale(1,1.065)" text-anchor="end">0</text>
<text class="tl" transform="translate(187.6,1224.50) scale(1,1.065)" text-anchor="end">5</text>
<text class="tl" transform="translate(190,1068.00) scale(1,1.065)" text-anchor="end">10</text>
<text class="tl" transform="translate(187.6,911.50) scale(1,1.065)" text-anchor="end">15</text>
<text class="tl" transform="translate(190,755.00) scale(1,1.065)" text-anchor="end">20</text>
<text class="tl" transform="translate(187.6,598.50) scale(1,1.065)" text-anchor="end">25</text>
<text class="tl" transform="translate(190,442.00) scale(1,1.065)" text-anchor="end">30</text>
<text class="tl" transform="translate(187.6,285.50) scale(1,1.065)" text-anchor="end">35</text>
<text class="tl" transform="translate(190,129.00) scale(1,1.065)" text-anchor="end">40</text>
<text class="ti" x="977.2" y="1737.4" textLength="534" lengthAdjust="spacingAndGlyphs">Particle size (nm)</text>
<text class="ti" transform="translate(80.3,1074.4) rotate(-90)" x="0" y="0" textLength="492.5" lengthAdjust="spacingAndGlyphs">Percentage (%)</text>
<line x1="343" y1="222.5" x2="471.5" y2="222.5" stroke="#000000" stroke-width="10.7" stroke-linecap="round"/>
<g fill="#000000"><rect x="389.70" y="206.20" width="32.6" height="32.6"/></g>
<text class="lg" x="484.5" y="240.9" textLength="73.3" lengthAdjust="spacingAndGlyphs">BT</text>
<line x1="343" y1="292" x2="471.5" y2="292" stroke="#ff0000" stroke-width="10.7" stroke-linecap="round"/>
<g fill="#ff0000"><circle cx="407.00" cy="292.00" r="17.75"/></g>
<text class="lg" x="484.5" y="312" textLength="492.6" lengthAdjust="spacingAndGlyphs">BT+0.5% copolymer</text>
<line x1="343" y1="362.8" x2="471.5" y2="362.8" stroke="#0000ff" stroke-width="10.7" stroke-linecap="round"/>
<g fill="#0000ff"><path d="M406.00,336.82L428.50,375.79L383.50,375.79Z"/></g>
<text class="lg" x="484.5" y="382.9" textLength="450.3" lengthAdjust="spacingAndGlyphs">BT+1% copolymer</text>
<line x1="343" y1="433.4" x2="471.5" y2="433.4" stroke="#008584" stroke-width="10.7" stroke-linecap="round"/>
<g fill="#008584"><path d="M406.00,459.38L428.50,420.41L383.50,420.41Z"/></g>
<text class="lg" x="484.5" y="453.2" textLength="450.3" lengthAdjust="spacingAndGlyphs">BT+2% copolymer</text>
</svg></body></html>
